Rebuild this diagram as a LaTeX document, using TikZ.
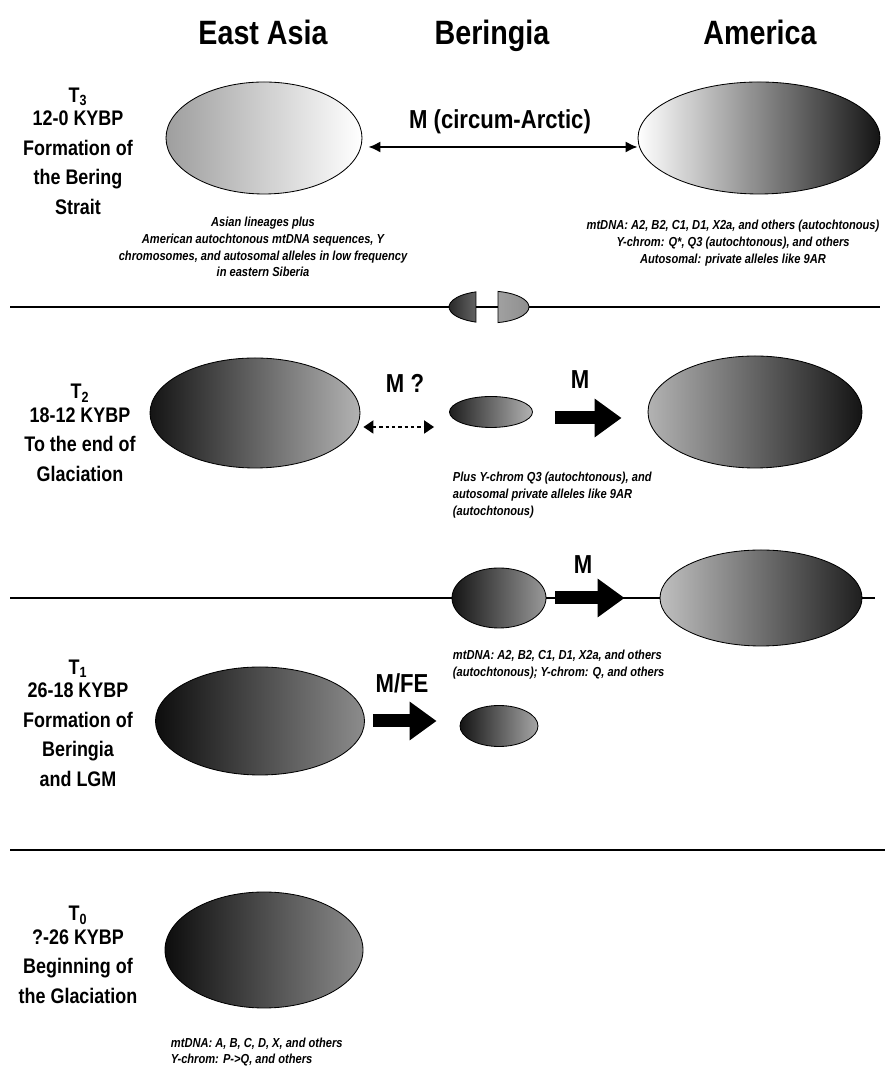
\documentclass[tikz,border=0pt]{standalone}
\usepackage{fontspec}
\setmainfont{Liberation Sans}[FakeStretch=0.85]
\usetikzlibrary{shapes.geometric,arrows.meta}

\tikzset{
  region/.style={font=\fontsize{24}{28}\selectfont\bfseries,anchor=base},
  period/.style={font=\fontsize{15}{21}\selectfont\bfseries,align=center},
  note/.style={font=\fontsize{9.3}{12}\selectfont\bfseries\itshape},
  flow/.style={font=\fontsize{18.5}{22}\selectfont\bfseries},
  pop/.style={draw,ellipse,inner sep=0pt,line width=0.6pt},
  fat/.style={line width=3.25mm,-{Triangle[length=6.75mm,width=9.25mm]}},
  twoway/.style={line width=1.4pt,{Latex[length=3mm,width=2.8mm]}-{Latex[length=3mm,width=2.8mm]}},
  maybe/.style={line width=1.3pt,dash pattern=on 2.5pt off 2pt,{Triangle[length=2.5mm,width=3.25mm]}-{Triangle[length=2.5mm,width=3.25mm]}},
}

\begin{document}
\begin{tikzpicture}
\useasboundingbox (0,0) rectangle (222mm,268.75mm);

% regions
\node[region] (asia) at (65.75mm,257.5mm) {East Asia};
\node[region] (beringia) at (123mm,257.5mm) {Beringia};
\node[region] (america) at (190mm,257.5mm) {America};

% T3
\node[period] (t3) at (19.5mm,231mm) {T\textsubscript{3}\\[-1.5mm]12-0 KYBP\\Formation of\\the Bering\\Strait};
\node[pop,minimum width=49mm,minimum height=28mm,left color=black!38,right color=white] (ea3) at (66mm,234.25mm) {};
\node[pop,minimum width=60.5mm,minimum height=28mm,left color=white,right color=black!92] (am3) at (189.75mm,234.25mm) {};
\node[flow] (m3) at (125mm,238.25mm) {M (circum-Arctic)};
\draw[twoway,shorten <=1.5mm] ([yshift=-2.25mm]ea3.east) -- ([yshift=-2.25mm]am3.west);
\node[note,align=center] (n3a) at (65.75mm,207mm) {Asian lineages plus\\American autochtonous mtDNA sequences, Y\\chromosomes, and autosomal alleles in low frequency\\in eastern Siberia};
\node[note,align=center] (n3b) at (183.25mm,208mm) {mtDNA: A2, B2, C1, D1, X2a, and others (autochtonous)\\Y-chrom: Q*, Q3 (autochtonous), and others\\Autosomal: private alleles like 9AR};

% T3--T2 line and bridge
\draw[line width=1.5pt] (2.5mm,192mm) -- (220mm,192mm);
\draw[line width=0.6pt,left color=black!88,right color=black!50] (122.25mm,192mm) ++(109:10mm and 4mm) arc[start angle=109,end angle=251,x radius=10mm,y radius=4mm] -- cycle;
\draw[line width=0.6pt,left color=black!35,right color=black!45] (122.25mm,192mm) ++(-77:10mm and 4mm) arc[start angle=-77,end angle=77,x radius=10mm,y radius=4mm] -- cycle;

% T2
\node[period] (t2) at (20mm,160.5mm) {T\textsubscript{2}\\[-1.5mm]18-12 KYBP\\To the end of\\Glaciation};
\node[pop,minimum width=52.5mm,minimum height=27.5mm,left color=black!92,right color=black!30] (ea2) at (63.75mm,165.5mm) {};
\node[pop,minimum width=20.75mm,minimum height=7.75mm,left color=black!88,right color=black!30] (ber2) at (122.75mm,165.75mm) {};
\node[pop,minimum width=53.5mm,minimum height=28mm,left color=black!30,right color=black!92] (am2) at (188.75mm,165.75mm) {};
\node[flow] (mq) at (101.25mm,173mm) {M ?};
\node[flow] (m2) at (145mm,173.75mm) {M};
\draw[maybe,shorten <=0.75mm,shorten >=3.75mm] ([yshift=-3.5mm]ea2.east) -- ([yshift=-3.5mm]ea2.east -| ber2.west);
\draw[fat,shorten <=5.5mm,shorten >=6.5mm] ([yshift=-1.5mm]ber2.east) -- ([yshift=-1.5mm]ber2.east -| am2.west);
\node[note,align=left,anchor=west] (n2) at (112mm,145mm) {Plus Y-chrom Q3 (autochtonous), and\\autosomal private alleles like 9AR\\(autochtonous)};

% T2--T1 line
\draw[line width=0.8pt] (2.5mm,119.25mm) -- (218.75mm,119.25mm);

% T1
\node[pop,minimum width=23.5mm,minimum height=15mm,left color=black!92,right color=black!40] (ber1) at (124.75mm,119.25mm) {};
\node[pop,minimum width=50.5mm,minimum height=24mm,left color=black!25,right color=black!88] (am1) at (190.25mm,119.25mm) {};
\node[flow] (m1) at (145.75mm,127.5mm) {M};
\draw[fat,shorten <=2.25mm,shorten >=8.75mm] (ber1.east) -- (am1.west);
\node[note,align=left,anchor=west] (n1) at (112mm,102.6mm) {mtDNA: A2, B2, C1, D1, X2a, and others\\(autochtonous); Y-chrom: Q, and others};

\node[period] (t1) at (19.5mm,88mm) {T\textsubscript{1}\\[-1.5mm]26-18 KYBP\\Formation of\\Beringia\\and LGM};
\node[pop,minimum width=52.25mm,minimum height=27mm,left color=black!95,right color=black!45] (ea1) at (65mm,88.5mm) {};
\node[pop,minimum width=19.5mm,minimum height=10.25mm,left color=black!92,right color=black!35] (ber0) at (124.75mm,87.25mm) {};
\node[flow] (mfe) at (100.5mm,98mm) {M/FE};
\draw[fat,shorten <=2mm,shorten >=5.75mm] (ea1.east) -- (ea1.east -| ber0.west);

% T1--T0 line
\draw[line width=2pt] (2.5mm,56.25mm) -- (221.25mm,56.25mm);

% T0
\node[period] (t0) at (19.5mm,30mm) {T\textsubscript{0}\\[-1.5mm]?-26 KYBP\\Beginning of\\the Glaciation};
\node[pop,minimum width=49.5mm,minimum height=29mm,left color=black!95,right color=black!45] (ea0) at (66mm,31.25mm) {};
\node[note,align=left,anchor=west] (n0) at (41.5mm,5.75mm) {mtDNA: A, B, C, D, X, and others\\Y-chrom: P->Q, and others};
\end{tikzpicture}
\end{document}
